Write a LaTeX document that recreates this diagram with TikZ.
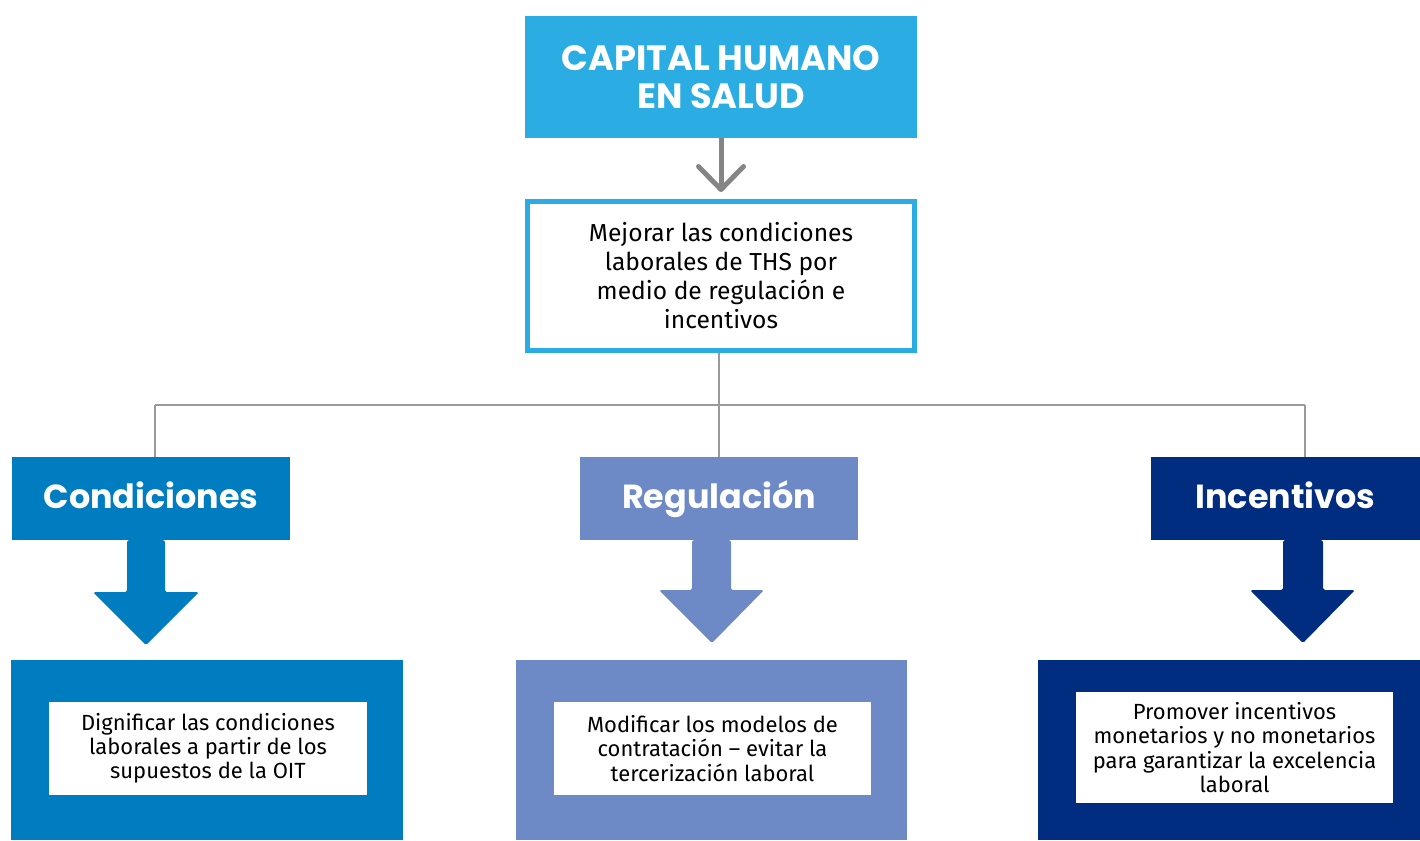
\documentclass[tikz,border=0pt]{standalone}
\usepackage{fontspec}
\setmainfont{Fira Sans}
\newfontfamily\headfont{Poppins}
\usetikzlibrary{positioning, arrows.meta, calc}
\definecolor{topblue}{RGB}{43,172,226}
\definecolor{condcol}{RGB}{0,124,192}
\definecolor{regcol}{RGB}{109,138,198}
\definecolor{inccol}{RGB}{0,45,127}
\definecolor{arrowgray}{RGB}{133,133,133}
\definecolor{linegray}{RGB}{154,154,154}

\begin{document}
\begin{tikzpicture}[x=0.02cm, y=-0.02cm,
    head/.style = {text=white, inner sep=0pt, align=center, minimum height=1.66cm, text height=2.6ex, text depth=0.5ex, font=\headfont\bfseries\fontsize{19}{20}\selectfont},
    panel/.style = {inner sep=0pt, minimum height=3.6cm},
    card/.style = {fill=white, inner sep=0pt, align=center, minimum width=6.35cm, font=\fontsize{12.5}{13.8}\selectfont},
    link/.style = {draw=linegray, line width=0.85pt},
    blockarrow/.style = {rounded corners=1pt}]
            \useasboundingbox (0,0) rectangle (1420,840);

            \node[text=white, fill=topblue, inner sep=0pt, align=center, minimum width=7.84cm, minimum height=2.44cm, font=\headfont\bfseries\fontsize{20}{21.5}\selectfont] (top) at (721,77) {CAPITAL HUMANO\\EN SALUD};
            \node[draw=topblue, line width=0.1cm, fill=white, minimum width=7.74cm, minimum height=2.98cm, align=center, font=\fontsize{14}{16.5}\selectfont] (goal) at (721,276) {Mejorar las condiciones\\laborales de THS por\\medio de regulación e\\incentivos};

            \node[head, fill=condcol, minimum width=5.56cm] (cond) at (151,498.5) {Condiciones};
            \node[head, fill=regcol, minimum width=5.56cm] (reg) at (719,498.5) {Regulación};
            \node[head, fill=inccol, minimum width=5.38cm] (inc) at (1285.5,498.5) {Incentivos};

            \node[panel, fill=condcol, minimum width=7.84cm] (condp) at (207,750) {};
            \node[panel, fill=regcol, minimum width=7.82cm] (regp) at (711.5,750) {};
            \node[panel, fill=inccol, minimum width=7.64cm] (incp) at (1229,750) {};

            \node[card, minimum height=1.86cm] (condt) at (208,748.5) {Dignificar las condiciones\\laborales a partir de los\\supuestos de la OIT};
            \node[card, minimum height=1.86cm] (regt) at (712.5,748.5) {Modificar los modelos de\\contratación – evitar la\\tercerización laboral};
            \node[card, minimum height=2.22cm] (inct) at (1234.5,747.5) {Promover incentivos\\monetarios y no monetarios\\para garantizar la excelencia\\laboral};

            % gray arrow and tree lines
            \draw[arrowgray, line width=0.1cm, shorten >=1.4mm, -{Straight Barb[length=4.6mm, width=9mm, round]}] (top) -- (goal);
            \coordinate (jl) at (155,405);
            \coordinate (jr) at (1305,405);
            \draw[link] (jl) -- (jr);
            \draw[link] (goal.south -| reg.north) -- (reg.north);
            \draw[link] (jl) -- (jl |- cond.north);
            \draw[link] (jr) -- (jr |- inc.north);

            % block arrows
            \fill[condcol, blockarrow] (127,540) -- (165,540) -- (165,592) -- (199,592) -- (146,645) -- (93,592) -- (127,592) -- cycle;
            \fill[regcol, blockarrow] (692,540) -- (731,540) -- (731,590) -- (764,590) -- (712,643) -- (659,590) -- (692,590) -- cycle;
            \fill[inccol, blockarrow] (1283,540) -- (1323,540) -- (1323,590) -- (1355,590) -- (1303,643) -- (1250,590) -- (1283,590) -- cycle;
        \end{tikzpicture}
\end{document}
